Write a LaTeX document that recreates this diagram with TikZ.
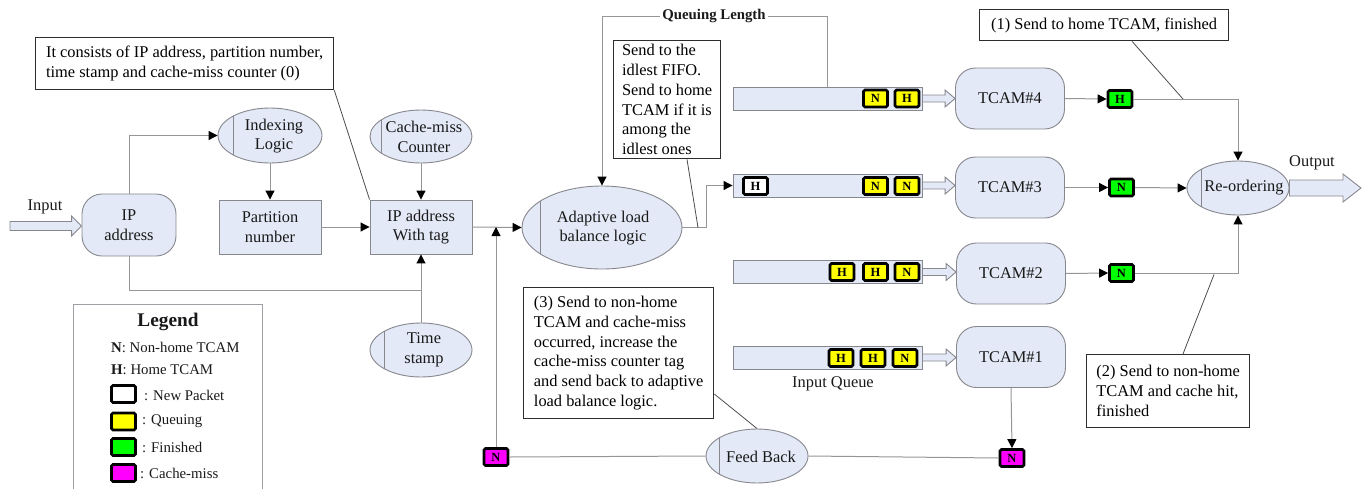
\documentclass[tikz,border=0pt]{standalone}
\usepackage{fontspec}
\setmainfont{Liberation Serif}
\usetikzlibrary{shapes.geometric,arrows.meta,calc}
\definecolor{fillblue}{RGB}{227,233,246}
\definecolor{shapegray}{RGB}{135,135,142}
\definecolor{linegray}{RGB}{150,150,150}
\definecolor{calloutgray}{RGB}{45,45,45}
\definecolor{pyellow}{RGB}{255,255,0}
\definecolor{pgreen}{RGB}{0,255,0}
\definecolor{pmagenta}{RGB}{255,0,255}
\definecolor{txtcol}{RGB}{25,25,25}
\newcommand{\hollowarr}[5]{%
  \path[hollow] let \p1=(#1), \p2=(#2) in
    (\x1,{\y1+#3}) -- ({\x2-#5},{\y1+#3}) -- ({\x2-#5},{\y1+#4}) -- (\x2,\y1)
    -- ({\x2-#5},{\y1-#4}) -- ({\x2-#5},{\y1-#3}) -- (\x1,{\y1-#3}) -- cycle;}
\begin{document}
\begin{tikzpicture}[x=1pt,y=-1pt,
  font=\fontsize{16.4}{19.8}\selectfont, text=txtcol,
  box/.style={rectangle, draw=shapegray, fill=fillblue, line width=0.9pt, inner sep=0pt, align=center},
  rbox/.style={box, rounded corners=20pt},
  ell/.style={ellipse, draw=shapegray, fill=fillblue, line width=0.9pt, inner sep=0pt,
    path picture={\draw[shapegray, line width=0.9pt] ([xshift=#1]path picture bounding box.north west) -- ([xshift=#1]path picture bounding box.south west);}},
  ell/.default=14pt,
  lbl/.style={align=center, inner sep=0pt},
  queue/.style={rectangle, draw=shapegray, fill=fillblue, line width=0.9pt, minimum width=189pt, minimum height=23pt, inner sep=0pt},
  pkt/.style={rectangle, draw=black, line width=2.8pt, rounded corners=1.5pt, minimum width=24pt, minimum height=17pt, inner sep=0pt, font=\bfseries\fontsize{12.5}{13}\selectfont, text=black},
  callout/.style={rectangle, draw=calloutgray, fill=white, line width=1.3pt, align=left, inner sep=0pt, anchor=north west, text=black},
  conn/.style={draw=linegray, line width=1pt, -{Triangle[length=9pt,width=9pt,color=black]}},
  plain/.style={draw=linegray, line width=1pt},
  cline/.style={draw=calloutgray!85, line width=0.8pt},
  hollow/.style={draw=shapegray, fill=fillblue, line width=0.9pt},
  legtxt/.style={anchor=west, inner sep=0pt, font=\fontsize{14.8}{17}\selectfont}
]
\useasboundingbox (0,0) rectangle (1363,488);

% ---------- left part ----------
\node[inner sep=0pt] (inl) at (45,207) {Input};
\coordinate (inS) at (10,226);
\node[rbox, minimum width=94pt, minimum height=62pt] (ip) at (129,225) {IP\\address};
\node[ell=15pt, minimum width=104pt, minimum height=55pt] (idx) at (270,135.5) {};
\node[lbl] (idxl) at (274,136) {Indexing\\Logic};
\node[box, minimum width=102pt, minimum height=54pt] (pn) at (270,227) {Partition\\number};
\node[box, minimum width=102pt, minimum height=54pt] (tag) at (421,227) {IP address\\With tag};
\node[ell=11pt, minimum width=102pt, minimum height=53pt] (cmc) at (421,136.5) {};
\node[lbl] (cmcl) at (424,137) {Cache-miss\\Counter};
\node[ell=14pt, minimum width=102pt, minimum height=54pt] (ts) at (421,350) {};
\node[lbl] (tsl) at (424,350) {Time\\stamp};
\node[ell=18pt, minimum width=160pt, minimum height=83pt] (alb) at (602,227.5) {};
\node[lbl] (albl) at (603,228) {Adaptive load\\balance logic};

% ---------- queues ----------
\node[queue] (q4) at (827.5,98.5) {};
\node[queue] (q3) at (827.5,185.5) {};
\node[queue] (q2) at (827.5,272) {};
\node[queue] (q1) at (827.5,357.5) {};
\node[inner sep=0pt] (inq) at (833,384) {Input Queue};

\node[pkt, fill=pyellow] (p41) at (875.5,98.5) {N};
\node[pkt, fill=pyellow] (p42) at (907,98.5) {H};
\node[pkt, fill=white]   (p31) at (755.5,186) {H};
\node[pkt, fill=pyellow] (p32) at (875.5,186) {N};
\node[pkt, fill=pyellow] (p33) at (907,186) {N};
\node[pkt, fill=pyellow] (p21) at (842,272) {H};
\node[pkt, fill=pyellow] (p22) at (875.5,272) {H};
\node[pkt, fill=pyellow] (p23) at (907,272) {N};
\node[pkt, fill=pyellow] (p11) at (841,358) {H};
\node[pkt, fill=pyellow] (p12) at (873,358) {H};
\node[pkt, fill=pyellow] (p13) at (905,358) {N};

% ---------- TCAMs ----------
\node[rbox, minimum width=109pt, minimum height=61pt] (t4) at (1010,98.5) {TCAM\#4};
\node[rbox, minimum width=109pt, minimum height=61pt] (t3) at (1010,187.5) {TCAM\#3};
\node[rbox, minimum width=109pt, minimum height=61pt] (t2) at (1011,273.5) {TCAM\#2};
\node[rbox, minimum width=109pt, minimum height=61pt] (t1) at (1011,357) {TCAM\#1};

\node[pkt, fill=pgreen] (g4) at (1120,99) {H};
\node[pkt, fill=pgreen] (g3) at (1121.5,187.5) {N};
\node[pkt, fill=pgreen] (g2) at (1121.5,273) {N};
\node[pkt, fill=pmagenta] (m2) at (1012,458) {N};
\node[pkt, fill=pmagenta] (m1) at (496,457) {N};

\node[ell=14pt, minimum width=102pt, minimum height=54pt] (ro) at (1238,188) {};
\node[lbl] (rol) at (1244,188) {Re-ordering};
\node[inner sep=0pt] (outl) at (1312,163) {Output};
\coordinate (outE) at (1361,189);
\node[ell=13pt, minimum width=102pt, minimum height=54pt] (fb) at (757,456) {};
\node[lbl] (fbl) at (761,457) {Feed Back};

% ---------- callouts ----------
\node[callout, minimum width=298pt, minimum height=52pt] (cons) at (35,37) {It consists of IP address, partition number,\\time stamp and cache-miss counter (0)};
\node[callout, minimum width=107pt, minimum height=118pt] (idl) at (613,40) {Send to the\\idlest FIFO.\\Send to home\\TCAM if it is\\among the\\idlest ones};
\node[callout, minimum width=249pt, minimum height=31pt] (c1) at (979,9) {(1) Send to home TCAM, finished};
\node[callout, minimum width=163pt, minimum height=73pt] (c2) at (1086,354) {(2) Send to non-home\\TCAM and cache hit,\\finished};
\node[callout, minimum width=190pt, minimum height=131pt] (c3) at (523,287) {(3) Send to non-home\\TCAM and cache-miss\\occurred, increase the\\cache-miss counter tag\\and send back to adaptive\\load balance logic.};
\node[inner sep=2pt, font=\bfseries\fontsize{14.8}{17}\selectfont] (ql) at (714,16) {Queuing Length};

% ---------- legend ----------
\node[rectangle, draw=shapegray!80, line width=0.9pt, minimum width=189pt, minimum height=200pt, anchor=north west, inner sep=0pt] (leg) at (73,304) {};
\node[inner sep=0pt, font=\bfseries\fontsize{19.3}{22}\selectfont] (legt) at (168,322) {Legend};
\node[legtxt] (legn) at (111,347) {\textbf{N}: Non-home TCAM};
\node[legtxt] (legh) at (111,370) {\textbf{H}: Home TCAM};
\node[pkt, fill=white] (lp1) at (123.5,394) {};
\node[pkt, fill=pyellow] (lp2) at (123.5,421.5) {};
\node[pkt, fill=pgreen] (lp3) at (123.5,447) {};
\node[pkt, fill=pmagenta] (lp4) at (123.5,473) {};
\node[legtxt] (lt1) at (144,395) {: New Packet};
\node[legtxt] (lt2) at (142,421) {: Queuing};
\node[legtxt] (lt3) at (142,447) {: Finished};
\node[legtxt] (lt4) at (140,473) {: Cache-miss};

% ---------- coordinates ----------
\coordinate (j1) at (421,290);
\coordinate (j2) at (m1.north |- tag.east);
\coordinate (qlR) at ($(q4.north west)+(95,0)$);
\coordinate (idlP) at (698,227.5);
\coordinate (c1P) at (1183,99);
\coordinate (c2P) at (1214,274.5);

% ---------- connectors ----------
\hollowarr{inS}{ip.west}{4.5pt}{10pt}{10pt}
\draw[conn] (ip.north) |- (idx.west);
\draw[conn] (idx.south) -- (pn.north);
\draw[conn] (pn.east) -- (tag.west);
\draw[conn] (cmc.south) -- (tag.north);
\draw[plain] (ip.south) |- (j1);
\draw[plain] (ts.north) -- (j1);
\draw[conn] (j1) -- (tag.south);
\draw[conn] (tag.east) -- (alb.west);
\draw[conn] (m1.north) -- (j2);
\draw[conn] (alb.east) -- ++(24,0) |- (q3.west);
\draw[plain] (qlR) |- (ql.east);
\draw[conn] (ql.west) -| (alb.north);

\hollowarr{q4.east}{t4.west}{3.5pt}{8.5pt}{10pt}
\hollowarr{q3.east}{t3.west}{3.5pt}{8.5pt}{10pt}
\hollowarr{q2.east}{t2.west}{3.5pt}{8.5pt}{10pt}
\hollowarr{q1.east}{t1.west}{3.5pt}{8.5pt}{10pt}

\draw[conn] (t4.east) -- (g4.west);
\draw[conn] (t3.east) -- (g3.west);
\draw[conn] (t2.east) -- (g2.west);
\draw[conn] (t1.south) -- (m2.north);
\draw[conn] (g4.east) -| (ro.north);
\draw[conn] (g3.east) -- (ro.west);
\draw[conn] (g2.east) -| (ro.south);
\hollowarr{ro.east}{outE}{8pt}{14pt}{18pt}

\draw[plain] (m1.east) -- (fb.west);
\draw[plain] (fb.east) -- (m2.west);

% ---------- callout lines ----------
\draw[cline] (cons.south east) -- (tag.north west);
\draw[cline] ($(idl.south west)+(74,0)$) -- (idlP);
\draw[cline] ($(c1.south west)+(153,0)$) -- (c1P);
\draw[cline] ($(c2.north west)+(97,0)$) -- (c2P);
\draw[cline] ($(c3.north east)+(0,107)$) -- (fb.north);
\end{tikzpicture}
\end{document}
